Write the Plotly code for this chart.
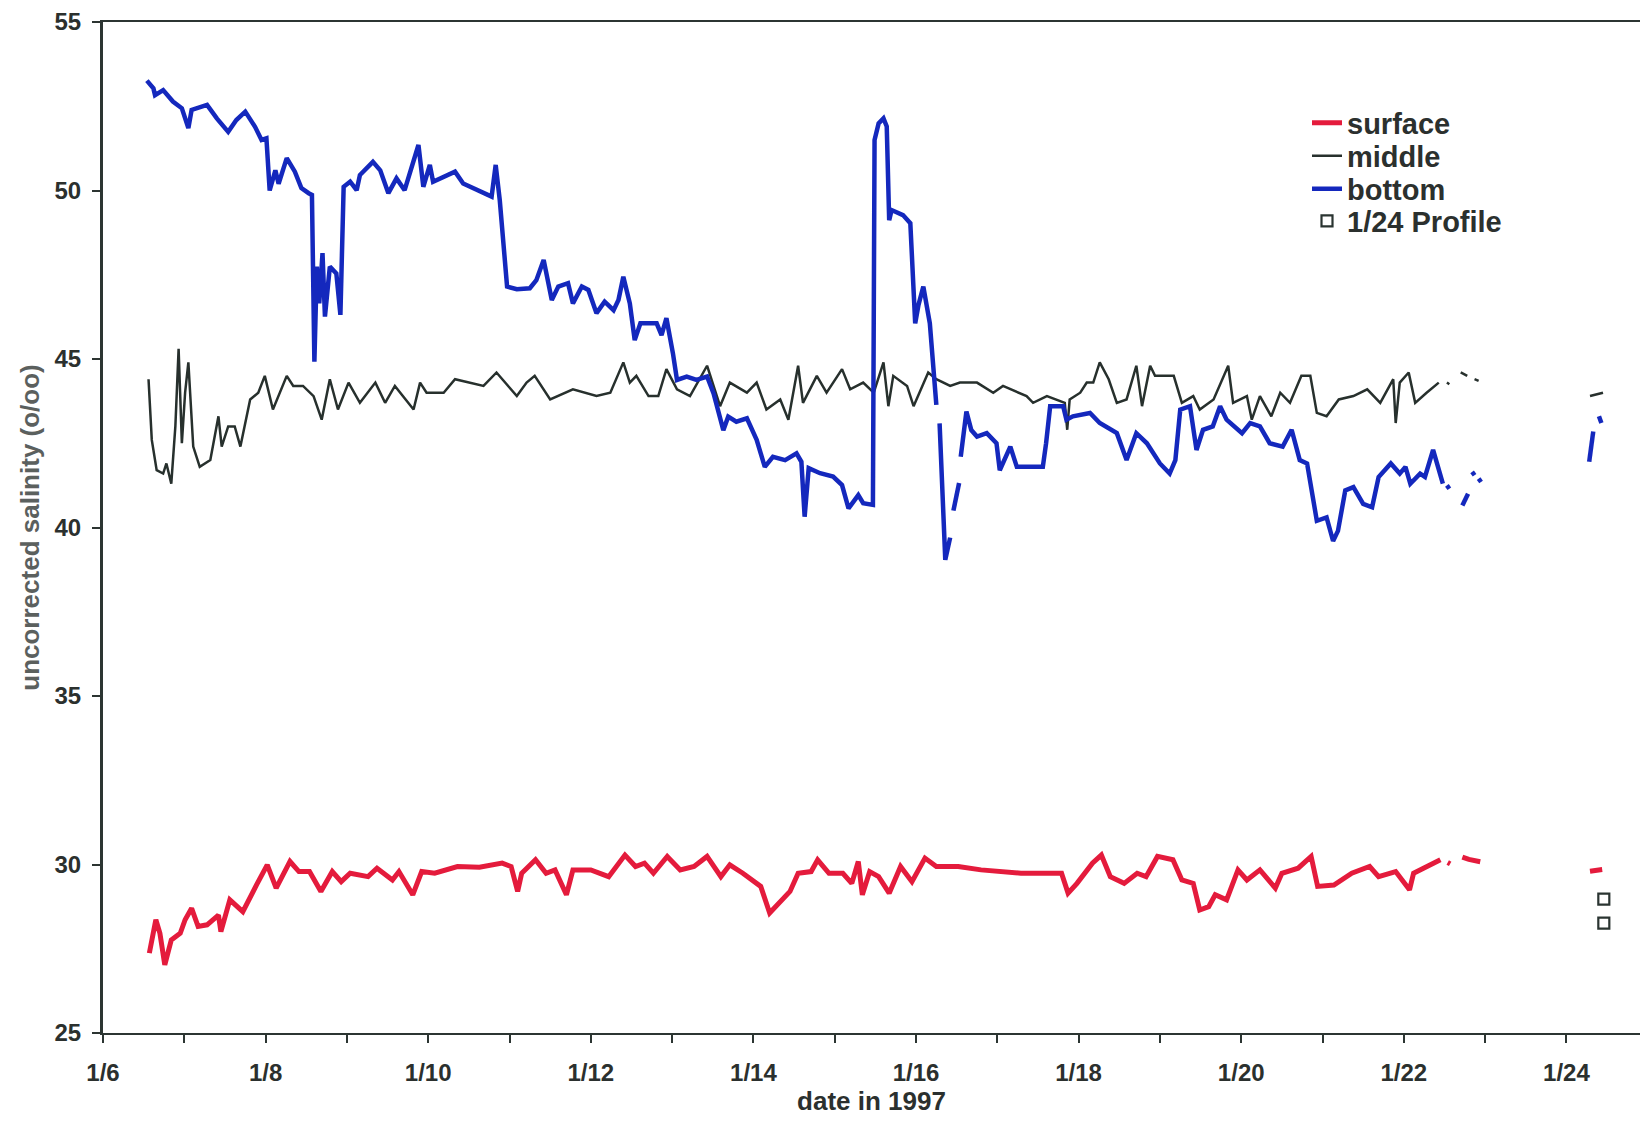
import pandas as pd
import plotly.graph_objects as go

# ---- data (day of January 1997, fractional; None = gap) ----
bottom_day = [6.54, 6.62, 6.64, 6.74, 6.86, 6.97, 7.05, 7.09, 7.28, 7.40, 7.54, 7.64, 7.75, 7.87, 7.95, 8.01,
              8.05, 8.12, 8.16, 8.26, 8.36, 8.44, 8.53, 8.57, 8.60, 8.63, 8.66, 8.70, 8.73, 8.79, 8.87, 8.92,
              8.96, 9.04, 9.12, 9.16, 9.32, 9.41, 9.51, 9.61, 9.71, 9.80, 9.88, 9.94, 10.02, 10.06, 10.19,
              10.33, 10.43, 10.56, 10.68, 10.78, 10.83, 10.88, 10.97, 11.09, 11.25, 11.33, 11.42, 11.52,
              11.60, 11.72, 11.78, 11.89, 11.97, 12.07, 12.17, 12.28, 12.34, 12.40, 12.48, 12.54, 12.61,
              12.81, 12.87, 12.93, 13.01, 13.06, 13.18, 13.30, 13.43, 13.51, 13.63, 13.69, 13.79, 13.92,
              14.04, 14.14, 14.24, 14.39, 14.53, 14.59, 14.63, 14.68, 14.82, 14.98, 15.09, 15.17, 15.29,
              15.35, 15.47, 15.49, 15.54, 15.60, 15.64, 15.67, 15.70, 15.84, 15.93, 15.99, 16.03, 16.09,
              16.17, 16.25, None, 16.29, 16.36, 16.42, None, 16.46, 16.53, None, 16.55, 16.62, 16.68,
              16.75, 16.87, 16.99, 17.03, 17.16, 17.24, 17.40, 17.56, 17.60, 17.65, 17.81, 17.85, 17.93,
              18.14, 18.26, 18.47, 18.59, 18.71, 18.84, 19.00, 19.12, 19.19, 19.25, 19.37, 19.45, 19.53,
              19.65, 19.74, 19.82, 20.01, 20.11, 20.23, 20.35, 20.51, 20.62, 20.72, 20.81, 20.93, 21.05,
              21.13, 21.19, 21.28, 21.38, 21.50, 21.61, 21.69, 21.84, 21.95, 22.02, 22.08, 22.20, 22.26,
              22.36, 22.42, 22.48, None, 22.53, 22.56, None, 22.72, 22.79, None, 22.84, 22.87, None,
              22.92, 22.95, None, 24.28, 24.33, None, 24.40, 24.43]
bottom_val = [53.26, 53.03, 52.83, 52.98, 52.64, 52.44, 51.85, 52.39, 52.54, 52.14, 51.74, 52.09, 52.34, 51.89,
              51.50, 51.55, 50.00, 50.60, 50.20, 50.96, 50.56, 50.07, 49.92, 49.87, 44.92, 47.74, 46.65,
              48.14, 46.26, 47.74, 47.54, 46.31, 50.11, 50.26, 50.01, 50.46, 50.85, 50.60, 49.92, 50.36,
              50.01, 50.71, 51.35, 50.11, 50.76, 50.26, 50.41, 50.56, 50.21, 50.07, 49.92, 49.82, 50.76,
              49.72, 47.15, 47.07, 47.10, 47.34, 47.94, 46.75, 47.15, 47.25, 46.65, 47.15, 47.05, 46.36,
              46.70, 46.45, 46.75, 47.44, 46.65, 45.56, 46.06, 46.06, 45.71, 46.21, 45.17, 44.38, 44.48,
              44.38, 44.48, 43.98, 42.89, 43.29, 43.14, 43.24, 42.60, 41.80, 42.10, 42.00, 42.20, 41.95,
              40.32, 41.76, 41.61, 41.51, 41.26, 40.57, 40.96, 40.72, 40.67, 51.50, 51.99, 52.14, 51.90,
              49.12, 49.42, 49.27, 49.03, 46.06, 46.60, 47.15, 46.06, 43.64, None, 43.09, 39.04, 39.70,
              None, 40.50, 41.32, None, 42.10, 43.44, 42.89, 42.70, 42.80, 42.50, 41.70, 42.40, 41.80,
              41.80, 41.80, 42.50, 43.60, 43.60, 43.20, 43.30, 43.40, 43.10, 42.80, 42.00, 42.80, 42.50,
              41.90, 41.60, 42.00, 43.50, 43.60, 42.30, 42.90, 43.00, 43.60, 43.20, 42.80, 43.10, 43.00,
              42.50, 42.40, 42.90, 42.00, 41.90, 40.20, 40.30, 39.60, 39.90, 41.10, 41.20, 40.70, 40.60,
              41.50, 41.90, 41.60, 41.80, 41.30, 41.60, 41.50, 42.30, 41.80, 41.30, None, 41.25, 41.15,
              None, 40.65, 41.00, None, 41.65, 41.55, None, 41.45, 41.35, None, 41.95, 42.85, None,
              43.30, 43.10]

middle_day = [6.56, 6.58, 6.60, 6.66, 6.74, 6.78, 6.84, 6.89, 6.93, 6.97, 7.01, 7.05, 7.11, 7.19, 7.32, 7.42,
              7.46, 7.54, 7.62, 7.69, 7.81, 7.91, 7.99, 8.09, 8.26, 8.34, 8.46, 8.59, 8.69, 8.79, 8.89,
              9.02, 9.16, 9.35, 9.47, 9.59, 9.82, 9.90, 9.98, 10.19, 10.33, 10.68, 10.84, 11.09, 11.21,
              11.31, 11.50, 11.78, 12.07, 12.24, 12.40, 12.48, 12.56, 12.71, 12.83, 12.93, 13.06, 13.22,
              13.43, 13.59, 13.71, 13.92, 14.04, 14.16, 14.33, 14.43, 14.55, 14.61, 14.78, 14.90, 15.09,
              15.19, 15.35, 15.48, 15.60, 15.66, 15.72, 15.89, 15.97, 16.15, 16.25, 16.42, 16.54, 16.75,
              16.95, 17.07, 17.36, 17.44, 17.61, 17.83, 17.86, 17.89, 18.02, 18.10, 18.18, 18.26, 18.37,
              18.47, 18.59, 18.71, 18.78, 18.88, 18.94, 19.17, 19.27, 19.41, 19.49, 19.66, 19.84, 19.90,
              20.07, 20.13, 20.23, 20.37, 20.48, 20.60, 20.74, 20.85, 20.93, 21.05, 21.20, 21.38, 21.55,
              21.71, 21.87, 21.90, 21.95, 22.06, 22.14, 22.28, 22.43, None, 22.53, 22.56, None, 22.70,
              22.78, None, 22.87, 22.92, None, 24.29, 24.45]
middle_val = [44.4, 43.5, 42.6, 41.7, 41.6, 41.9, 41.3, 43.0, 45.3, 42.5, 44.0, 44.9, 42.4, 41.8, 42.0, 43.3,
              42.4, 43.0, 43.0, 42.4, 43.8, 44.0, 44.5, 43.5, 44.5, 44.2, 44.2, 43.9, 43.2, 44.4, 43.5,
              44.3, 43.7, 44.3, 43.7, 44.2, 43.5, 44.3, 44.0, 44.0, 44.4, 44.2, 44.6, 43.9, 44.3, 44.5,
              43.8, 44.1, 43.9, 44.0, 44.9, 44.3, 44.5, 43.9, 43.9, 44.7, 44.1, 43.9, 44.8, 43.6, 44.3,
              44.0, 44.3, 43.5, 43.8, 43.2, 44.8, 43.7, 44.5, 44.0, 44.7, 44.1, 44.3, 44.0, 44.9, 43.6,
              44.5, 44.2, 43.6, 44.6, 44.4, 44.2, 44.3, 44.3, 44.0, 44.2, 43.9, 43.7, 43.9, 43.7, 42.9,
              43.8, 44.0, 44.3, 44.3, 44.9, 44.4, 43.7, 43.8, 44.8, 43.6, 44.8, 44.5, 44.5, 43.7, 43.9,
              43.5, 43.8, 44.8, 43.7, 43.9, 43.2, 43.9, 43.3, 44.0, 43.7, 44.5, 44.5, 43.4, 43.3, 43.8,
              43.9, 44.1, 43.7, 44.4, 43.1, 44.3, 44.6, 43.7, 44.0, 44.3, None, 44.3, 44.25, None, 44.6,
              44.5, None, 44.4, 44.35, None, 43.9, 44.0]

surface_day = [6.57, 6.65, 6.70, 6.76, 6.84, 6.95, 7.01, 7.09, 7.17, 7.28, 7.42, 7.45, 7.56, 7.72, 7.89, 8.02,
               8.13, 8.30, 8.41, 8.54, 8.68, 8.82, 8.93, 9.04, 9.26, 9.37, 9.56, 9.64, 9.81, 9.92, 10.08,
               10.36, 10.63, 10.91, 11.02, 11.10, 11.15, 11.32, 11.45, 11.56, 11.70, 11.78, 12.00, 12.22,
               12.42, 12.55, 12.66, 12.77, 12.94, 13.10, 13.27, 13.43, 13.60, 13.71, 13.87, 14.09, 14.20,
               14.31, 14.45, 14.55, 14.71, 14.79, 14.93, 15.10, 15.21, 15.29, 15.34, 15.43, 15.54, 15.67,
               15.81, 15.95, 16.11, 16.25, 16.52, 16.80, 17.07, 17.29, 17.62, 17.79, 17.87, 17.98, 18.17,
               18.28, 18.39, 18.56, 18.72, 18.83, 18.97, 19.16, 19.27, 19.41, 19.49, 19.60, 19.68, 19.82,
               19.96, 20.07, 20.23, 20.42, 20.50, 20.70, 20.86, 20.94, 21.14, 21.36, 21.58, 21.69, 21.90,
               22.07, 22.12, 22.34, 22.45, None, 22.54, 22.57, None, 22.72, 22.80, 22.94, None, 24.29, 24.44]
surface_val = [27.37, 28.36, 27.96, 27.02, 27.76, 27.96, 28.36, 28.70, 28.16, 28.21, 28.50, 28.01, 28.95, 28.60,
               29.40, 29.99, 29.30, 30.09, 29.79, 29.79, 29.20, 29.79, 29.49, 29.74, 29.64, 29.89, 29.54,
               29.79, 29.10, 29.79, 29.74, 29.94, 29.92, 30.04, 29.94, 29.20, 29.74, 30.14, 29.74, 29.84,
               29.10, 29.84, 29.84, 29.64, 30.28, 29.94, 30.04, 29.74, 30.24, 29.84, 29.94, 30.24, 29.64,
               29.99, 29.74, 29.35, 28.56, 28.85, 29.20, 29.74, 29.79, 30.14, 29.74, 29.74, 29.44, 30.09,
               29.10, 29.79, 29.64, 29.15, 29.94, 29.49, 30.19, 29.94, 29.94, 29.84, 29.79, 29.74, 29.74,
               29.74, 29.15, 29.44, 30.04, 30.28, 29.64, 29.44, 29.74, 29.64, 30.24, 30.14, 29.54, 29.44,
               28.65, 28.75, 29.10, 28.95, 29.84, 29.54, 29.84, 29.30, 29.74, 29.89, 30.24, 29.35, 29.39,
               29.74, 29.94, 29.64, 29.79, 29.25, 29.74, 29.99, 30.14, None, 30.06, 30.02, None, 30.22,
               30.15, 30.08, None, 29.80, 29.85]

profile_day = [24.46, 24.46]
profile_val = [28.97, 28.26]

x_ticks_start = "1997-01-06"
y_ticks = [25, 30, 35, 40, 45, 50, 55]

BASE = pd.Timestamp("1997-01-01")


def to_dates(days):
    out = []
    for d in days:
        if d is None:
            out.append(None)
        else:
            out.append((BASE + pd.Timedelta(days=d - 1)).strftime("%Y-%m-%d %H:%M:%S"))
    return out


FONT = "Liberation Sans, Arial, sans-serif"
AXIS_COLOR = "#2c3532"
TEXT_COLOR = "#2b302e"

fig = go.Figure()
fig.add_trace(go.Scatter(x=to_dates(surface_day), y=surface_val, mode="lines", name="surface",
                         legend="legend", line=dict(color="#e41b3c", width=5)))
fig.add_trace(go.Scatter(x=to_dates(middle_day), y=middle_val, mode="lines", name="middle",
                         legend="legend2", line=dict(color="#27302d", width=2.5)))
fig.add_trace(go.Scatter(x=to_dates(bottom_day), y=bottom_val, mode="lines", name="bottom",
                         legend="legend3", line=dict(color="#1428bd", width=4.5)))
fig.add_trace(go.Scatter(x=to_dates(profile_day), y=profile_val, mode="markers", name="1/24 Profile",
                         legend="legend4",
                         marker=dict(symbol="square-open", size=11, color="#2a3431",
                                     line=dict(width=2.2, color="#2a3431"))))

x_end = (BASE + pd.Timedelta(days=24.905 - 1)).strftime("%Y-%m-%d %H:%M:%S")

# plot area in pixels: top 22, height 1011
def row_y(px):
    return 1 - (px - 22) / 1011.0


LEG_X = (1307 - 103) / 1537.0
leg_font = dict(family=FONT, size=29, color=TEXT_COLOR, weight="bold")


def leg(ypx):
    return dict(x=LEG_X, y=row_y(ypx), xanchor="left", yanchor="middle",
                bgcolor="rgba(0,0,0,0)", borderwidth=0, font=leg_font, itemwidth=30)


fig.update_layout(
    width=1640, height=1121,
    margin=dict(l=103, r=0, t=22, b=88),
    paper_bgcolor="white", plot_bgcolor="white",
    font=dict(family=FONT, color=TEXT_COLOR),
    showlegend=True,
    legend=leg(123),
    legend2=leg(156),
    legend3=leg(189),
    legend4=leg(221),
    xaxis=dict(
        type="date",
        range=[x_ticks_start, x_end],
        tick0=x_ticks_start, dtick=2 * 86400000, tickformat="%-m/%-d",
        showline=True, linecolor=AXIS_COLOR, linewidth=2, mirror=True,
        ticks="outside", ticklen=8, tickwidth=1.5, tickcolor=AXIS_COLOR,
        minor=dict(dtick=86400000, ticks="outside", ticklen=8, tickwidth=1.5, tickcolor=AXIS_COLOR),
        showgrid=False, zeroline=False,
        tickfont=dict(family=FONT, size=24, color=TEXT_COLOR, weight="bold"),
        ticklabelstandoff=9,
        title=dict(text="date in 1997", standoff=5,
                   font=dict(family=FONT, size=26, color=TEXT_COLOR, weight="bold")),
    ),
    yaxis=dict(
        range=[25, 55], tickvals=y_ticks,
        showline=True, linecolor=AXIS_COLOR, linewidth=3,
        ticks="outside", ticklen=8, tickwidth=1.5, tickcolor=AXIS_COLOR,
        showgrid=False, zeroline=False,
        tickfont=dict(family=FONT, size=24, color=TEXT_COLOR, weight="bold"),
        ticklabelstandoff=6,
        title=dict(text="uncorrected salinity (o/oo)", standoff=8,
                   font=dict(family=FONT, size=26, color="#5b605e", weight="bold")),
    ),
)

fig.write_html("out.html")
